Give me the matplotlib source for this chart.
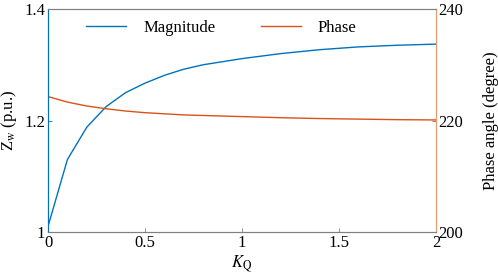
import numpy as np
import matplotlib.pyplot as plt

plt.rcParams['font.family'] = 'Liberation Serif'
plt.rcParams['mathtext.fontset'] = 'stix'
plt.rcParams['font.size'] = 12

kq = [0, 0.1, 0.2, 0.3, 0.4, 0.5, 0.6, 0.7, 0.8, 1.0, 1.2, 1.4, 1.6, 1.8, 2.0]
mag = [1.01, 1.13, 1.188, 1.225, 1.25, 1.267, 1.281, 1.292, 1.300, 1.311,
       1.320, 1.327, 1.332, 1.335, 1.337]
phase = [224.3, 223.3, 222.6, 222.1, 221.7, 221.4, 221.2, 221.0, 220.9, 220.7,
         220.5, 220.35, 220.25, 220.15, 220.1]

blue = '#0072BD'
orange = '#D95319'

fig = plt.figure(figsize=(4.98, 2.76), dpi=100)
ax = fig.add_axes([0.0964, 0.1594, 0.779, 0.808])
ax2 = ax.twinx()

l1, = ax.plot(kq, mag, color=blue, lw=1.0, label='Magnitude')
l2, = ax2.plot(kq, phase, color=orange, lw=1.0, label='Phase')

ax.set_xlim(0, 2)
ax.set_ylim(1, 1.4)
ax2.set_ylim(200, 240)
ax.set_xticks([0, 0.5, 1, 1.5, 2])
ax.set_xticklabels(['0', '0.5', '1', '1.5', '2'])
ax.set_yticks([1, 1.2, 1.4])
ax.set_yticklabels(['1', '1.2', '1.4'])
ax2.set_yticks([200, 220, 240])

for a in (ax, ax2):
    a.tick_params(direction='in', length=3, width=0.6, pad=2)
    a.spines['top'].set_color('#808080')
    a.spines['bottom'].set_color('#808080')
    for s in a.spines.values():
        s.set_linewidth(0.8)
ax.tick_params(axis='x', colors='#808080', labelcolor='black')
ax.tick_params(axis='y', colors=blue, labelcolor='black')
ax2.tick_params(axis='y', colors=orange, labelcolor='black')
ax.spines['left'].set_color(blue)
ax2.spines['left'].set_color(blue)
ax2.spines['right'].set_color('#E89A70')
ax.spines['right'].set_color('#E89A70')

ax.set_xlabel(r'$K_{\mathrm{Q}}$', labelpad=2)
ax.set_ylabel(r'Z$_{\mathrm{w}}$ (p.u.)', labelpad=4)
ax2.set_ylabel('Phase angle (degree)', labelpad=14)

ax.legend(handles=[l1, l2], ncol=2, frameon=False, loc='upper center',
          bbox_to_anchor=(0.447, 1.02), handlelength=2.4, handletextpad=1.0,
          columnspacing=2.75)

fig.savefig('out.png', dpi=100)
